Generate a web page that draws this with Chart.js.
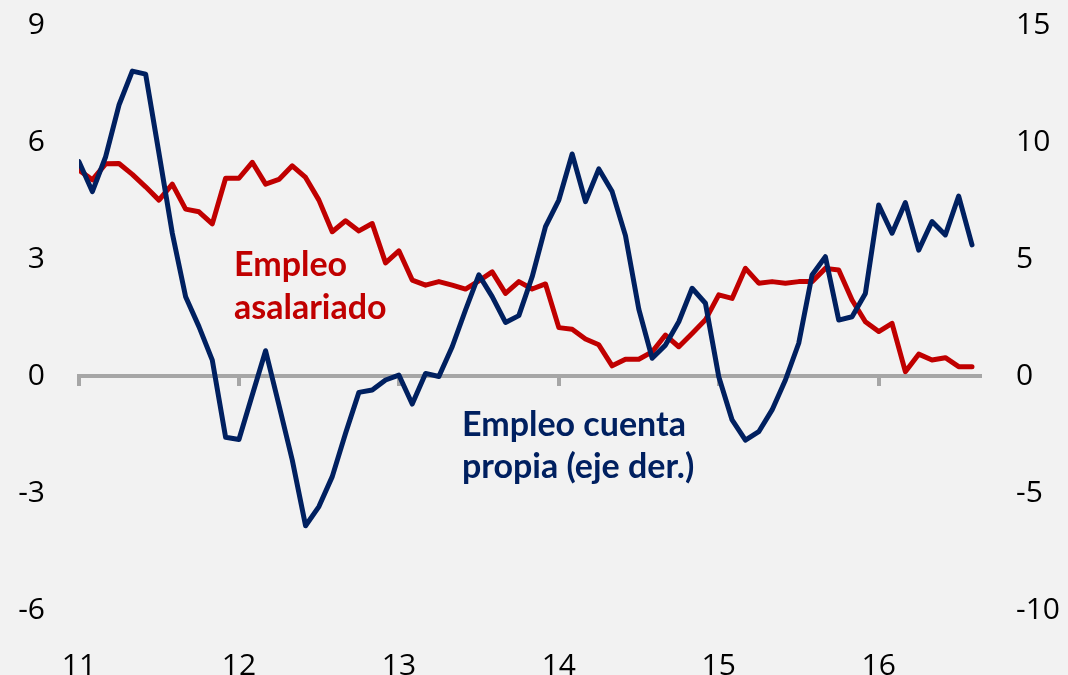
<!DOCTYPE html>
<html>
<head>
<meta charset="utf-8">
<script src="https://cdn.jsdelivr.net/npm/chart.js@4"></script>
<style>
  html, body { margin: 0; padding: 0; background: #f2f2f2; }
  #wrap { position: relative; width: 1068px; height: 675px; }
</style>
</head>
<body>
<div id="wrap"><canvas id="empleoChart"></canvas></div>
<script>
// months since Jan 2011 (0 = ene-11)
const yearTicks = [0, 12, 24, 36, 48, 60];
const yearLabels = ["11", "12", "13", "14", "15", "16"];

// Empleo asalariado (eje izq.)
const asalariado = [
  5.28, 5.03, 5.44, 5.45, 5.17, 4.85, 4.51, 4.92, 4.28, 4.21, 3.90, 5.07,
  5.07, 5.48, 4.92, 5.04, 5.39, 5.09, 4.51, 3.70, 3.98, 3.72, 3.91, 2.90,
  3.21, 2.46, 2.33, 2.42, 2.33, 2.23, 2.44, 2.67, 2.12, 2.42, 2.23, 2.36,
  1.24, 1.20, 0.95, 0.80, 0.26, 0.43, 0.43, 0.62, 1.05, 0.75, 1.09, 1.44,
  2.08, 1.99, 2.76, 2.38, 2.42, 2.38, 2.42, 2.42, 2.76, 2.72, 1.95, 1.39,
  1.14, 1.35, 0.11, 0.56, 0.41, 0.47, 0.24, 0.24
];

// Empleo cuenta propia (eje der.)
const cuentaPropia = [
  9.16, 7.88, 9.37, 11.58, 13.03, 12.90, 9.52, 6.10, 3.39, 2.11, 0.68, -2.62,
  -2.71, -0.81, 1.08, -1.24, -3.59, -6.40, -5.58, -4.30, -2.45, -0.70, -0.60, -0.17,
  0.04, -1.20, 0.11, -0.02, 1.25, 2.82, 4.32, 3.39, 2.29, 2.58, 4.24, 6.38,
  7.52, 9.49, 7.45, 8.85, 7.88, 6.00, 2.86, 0.76, 1.32, 2.32, 3.75, 3.11,
  -0.03, -1.88, -2.74, -2.38, -1.45, -0.17, 1.40, 4.32, 5.10, 2.39, 2.53, 3.53,
  7.31, 6.10, 7.41, 5.38, 6.60, 6.03, 7.69, 5.60
];

const leftTicks = [-6, -3, 0, 3, 6, 9];
const rightTicks = [-10, -5, 0, 5, 10, 15];

const redText = ["Empleo", "asalariado"];
const blueText = ["Empleo cuenta", "propia (eje der.)"];

const RED = "#c00000";
const NAVY = "#002060";
const GREY = "#a6a6a6";

const tickFont = { family: "'Open Sans', sans-serif", size: 30 };

// chart text labels
const labelsPlugin = {
  id: "seriesLabels",
  afterDatasetsDraw(chart) {
    const ctx = chart.ctx;
    ctx.save();
    ctx.font = "bold 34px Lato, 'Open Sans', sans-serif";
    ctx.textAlign = "left";
    ctx.textBaseline = "alphabetic";
    ctx.fillStyle = RED;
    ctx.fillText(redText[0], 234, 276);
    ctx.fillText(redText[1], 234, 319);
    ctx.fillStyle = NAVY;
    ctx.fillText(blueText[0], 462, 436);
    ctx.fillText(blueText[1], 462, 478);
    ctx.restore();
  }
};

const bgPlugin = {
  id: "bg",
  beforeDraw(chart) {
    const ctx = chart.ctx;
    ctx.save();
    ctx.fillStyle = "#f2f2f2";
    ctx.fillRect(0, 0, chart.width, chart.height);
    ctx.restore();
  }
};

// keep plot area at the same place as the original
function fitY(width) {
  return s => {
    s.width = width;
    s.paddingTop = 25;
    s.paddingBottom = 20;
  };
}

new Chart(document.getElementById("empleoChart"), {
  type: "line",
  data: {
    datasets: [
      {
        label: "Empleo cuenta propia (eje der.)",
        data: cuentaPropia.map((v, i) => ({ x: i, y: v })),
        yAxisID: "y2",
        borderColor: NAVY,
        borderWidth: 5,
        pointRadius: 0,
        borderJoinStyle: "round",
        borderCapStyle: "round",
        order: 0
      },
      {
        label: "Empleo asalariado",
        data: asalariado.map((v, i) => ({ x: i, y: v })),
        yAxisID: "y",
        borderColor: RED,
        borderWidth: 5,
        pointRadius: 0,
        borderJoinStyle: "round",
        borderCapStyle: "round",
        order: 1
      }
    ]
  },
  options: {
    responsive: true,
    maintainAspectRatio: false,
    animation: false,
    layout: { padding: 0 },
    plugins: {
      legend: { display: false },
      tooltip: { enabled: false }
    },
    scales: {
      x: {
        type: "linear",
        min: 0,
        max: 67.6,
        afterBuildTicks: s => { s.ticks = yearTicks.map(v => ({ value: v })); },
        afterFit: s => { s.height = 65; },
        grid: { display: false },
        border: { display: false },
        ticks: {
          font: tickFont,
          color: "#000",
          padding: 30,
          maxRotation: 0,
          callback: (v) => yearLabels[yearTicks.indexOf(v)]
        }
      },
      // zero line with year tick marks
      x2: {
        type: "linear",
        position: { y: 0 },
        min: 0,
        max: 67.6,
        afterBuildTicks: s => { s.ticks = yearTicks.map(v => ({ value: v })); },
        ticks: { display: false },
        grid: {
          drawOnChartArea: false,
          drawTicks: true,
          tickLength: 8,
          lineWidth: 4,
          color: GREY
        },
        border: { display: true, color: GREY, width: 4 }
      },
      y: {
        position: "left",
        min: -6,
        max: 9,
        afterBuildTicks: s => { s.ticks = leftTicks.map(v => ({ value: v })); },
        afterFit: fitY(79),
        grid: { display: false, drawTicks: false },
        border: { display: false },
        ticks: { font: tickFont, color: "#000", padding: 34 }
      },
      y2: {
        position: "right",
        min: -10,
        max: 15,
        afterBuildTicks: s => { s.ticks = rightTicks.map(v => ({ value: v })); },
        afterFit: fitY(88),
        grid: { display: false, drawTicks: false },
        border: { display: false },
        ticks: { font: tickFont, color: "#000", padding: 36 }
      }
    }
  },
  plugins: [bgPlugin, labelsPlugin]
});
</script>
</body>
</html>
